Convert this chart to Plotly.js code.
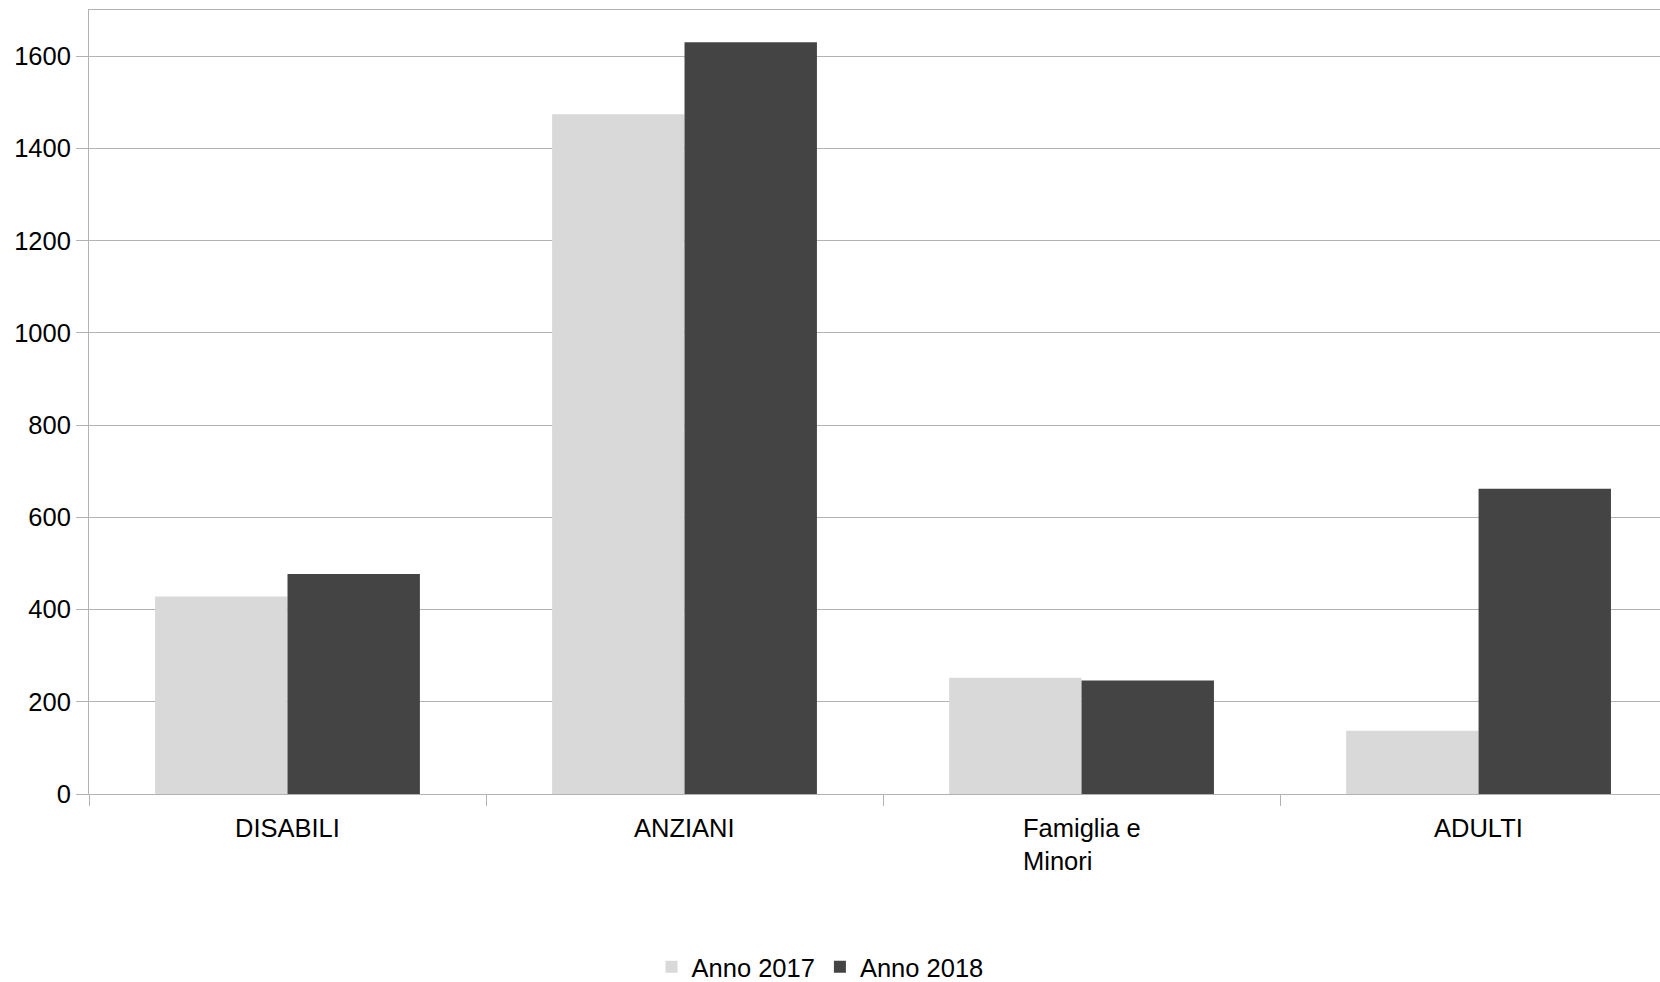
<!DOCTYPE html>
<html>
<head>
<meta charset="utf-8">
<script src="https://cdn.plot.ly/plotly-3.0.1.min.js"></script>
<style>
html,body{margin:0;padding:0;background:#fff;}
#chart{width:1660px;height:982px;}
</style>
</head>
<body>
<div id="chart"></div>
<script>
// Data
const categories = ["DISABILI", "ANZIANI", "Famiglia e Minori", "ADULTI"];
const categoryLabels = ["DISABILI", "ANZIANI", "Famiglia e<br>Minori", "ADULTI"];
const seriesNames = ["Anno 2017", "Anno 2018"];
const values2017 = [428, 1474, 252, 137];
const values2018 = [477, 1630, 246, 662];
const yTicks = [0, 200, 400, 600, 800, 1000, 1200, 1400, 1600];

const FONT = "Liberation Sans, Arial, sans-serif";
const FS = 25.5;

const traces = [
  {type: "bar", name: seriesNames[0], x: categories, y: values2017,
   marker: {color: "#d9d9d9", line: {width: 0}}, hoverinfo: "skip"},
  {type: "bar", name: seriesNames[1], x: categories, y: values2018,
   marker: {color: "#444444", line: {width: 0}}, hoverinfo: "skip"}
];

const annotations = categories.map((c, i) => ({
  x: c, xref: "x", y: 0, yref: "paper",
  xanchor: "center", yanchor: "top", yshift: -18,
  text: categoryLabels[i], showarrow: false, align: "left",
  font: {family: FONT, size: FS, color: "#000"}
}));

const layout = {
  width: 1660, height: 982,
  margin: {l: 89, r: 0, t: 10, b: 188, pad: 0},
  paper_bgcolor: "#fff", plot_bgcolor: "#fff",
  font: {family: FONT, size: FS, color: "#000"},
  barmode: "group", bargap: 0.333, bargroupgap: 0,
  showlegend: true,
  legend: {orientation: "h", xref: "container", yref: "container",
           x: 0.494, xanchor: "center", y: 0.015, yanchor: "middle",
           font: {family: FONT, size: FS, color: "#000"},
           itemwidth: 30, traceorder: "normal", bgcolor: "rgba(0,0,0,0)"},
  xaxis: {type: "category", range: [-0.5, 3.457], fixedrange: true,
          showticklabels: false, tickson: "boundaries",
          ticks: "outside", ticklen: 11, tickcolor: "#b3b3b3", tickwidth: 1,
          showline: true, linecolor: "#b3b3b3", linewidth: 1, mirror: true,
          showgrid: false, zeroline: false},
  yaxis: {range: [0, 1700], fixedrange: true, tickvals: yTicks,
          ticktext: yTicks.map(String),
          ticks: "outside", ticklen: 12, tickcolor: "#b3b3b3", tickwidth: 1,
          showline: true, linecolor: "#b3b3b3", linewidth: 1,
          showgrid: true, gridcolor: "#b3b3b3", gridwidth: 1,
          zeroline: false,
          tickfont: {family: FONT, size: FS, color: "#000"}},
  annotations: annotations
};

Plotly.newPlot("chart", traces, layout, {staticPlot: true, displayModeBar: false});
</script>
</body>
</html>
